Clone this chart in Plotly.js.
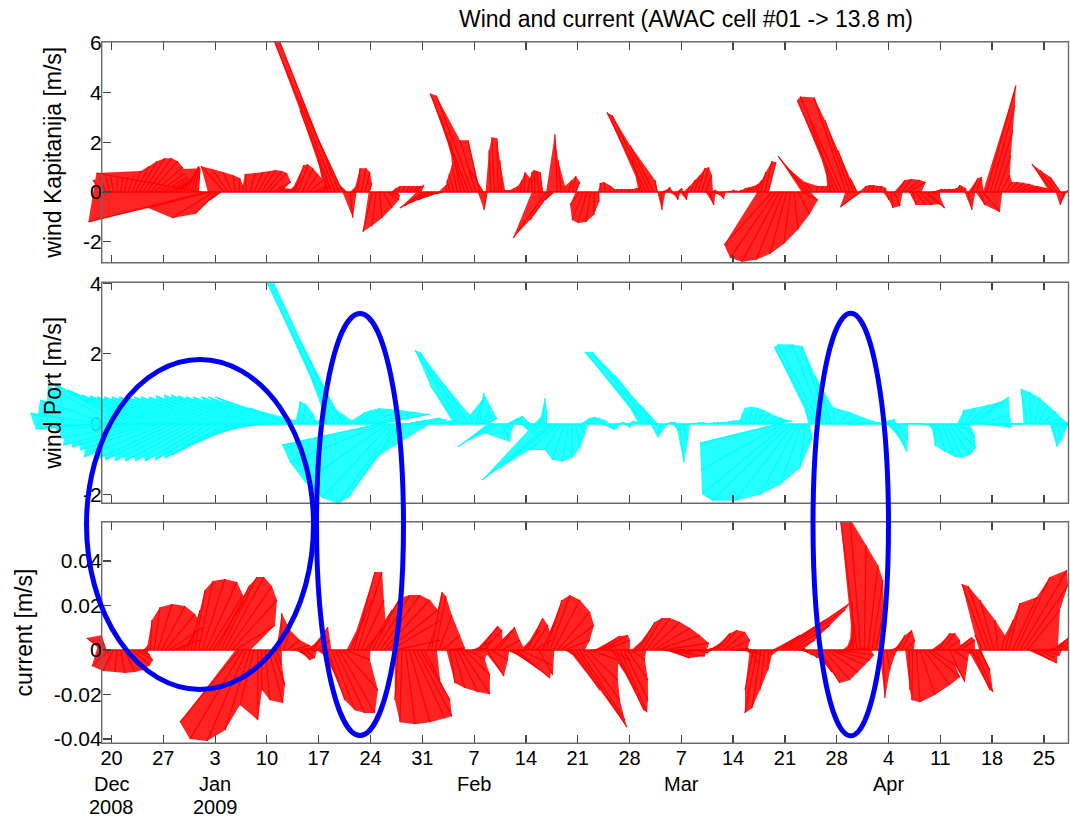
<!DOCTYPE html>
<html><head><meta charset="utf-8">
<script src="https://cdn.plot.ly/plotly-3.0.1.min.js"></script>
<style>html,body{margin:0;padding:0;background:#fff}#chart{width:1070px;height:819px}</style>
</head><body><div id="chart"></div>
<script>
// ---- sampling (12-hourly feather samples) ----
const FIRST_SAMPLE = Date.UTC(2008, 11, 18, 18, 0, 0);
const STEP_HOURS = 12;

// ---- wind Kapitanija (m/s): east (u) and north (v) components ----
const kapU = [
-0.37,-0.24,-0.15,-0.1,0,0.09,0.14,0.23,0.36,0.54,
0.71,0.88,1.01,1.1,1.16,1.13,1.06,0.99,0.88,0.78,
0.67,0.56,0.45,0.34,0.28,0.17,0.06,-4.25,-4.72,-2.46,
-1.65,-0.88,-0.43,-0.94,-0.64,-0.35,-0.1,0.03,0,-0.06,
0.19,0.36,0.49,0.58,0.68,0.73,0.74,0.35,0.4,0.46,
0.51,0.48,0.37,0.38,0.44,0.49,0.54,0.55,0.52,0.38,
0.07,-0.4,-1.27,-2.54,-2.4,-1.71,-0.26,0.11,0.16,0.1,
0.19,0.2,0.13,-0.38,-0.16,0.09,0.34,0.47,0.36,0.06,
0.07,0.12,0.17,0.18,0.2,0.17,0.14,-0.97,-0.96,-0.86,
-0.69,-0.52,-0.27,-0.02,-0.12,-0.19,-0.22,-0.45,-1.0,-1.54,
-1.45,-0.64,-0.47,-0.54,-0.12,-0.07,-0.1,-0.05,-0.08,-0.02,
0.03,0.04,0.05,0.06,0.04,0.09,0.02,-0.05,-0.08,-0.1,
-1.33,-0.8,-0.35,-0.1,-0.12,0.01,0.14,0.15,0.16,-0.38,
-0.45,-0.36,-0.19,-0.02,0.04,-0.07,-0.06,0.07,0.08,0.06,
0.07,0.08,0.09,0.06,0.08,0.05,-0.42,-1.57,-1.52,-0.94,
-0.09,0.04,0.05,0.06,0.12,0.09,0.1,0.15,0.12,0.18,
0.23,0.28,0.29,0.26,0.2,0.13,0.14,0.15,0.08,0.1,
0.11,0.12,0.13,0.14,0.16,0.17,0.18,0.19,0.2,0.3,
0.31,-1.92,-1.83,-1.5,-1.08,-0.67,-0.26,0.15,0.48,0.66,
-1.09,-0.76,-0.31,0.06,0.12,0.17,0.18,-0.21,-1.0,-1.66,
-1.69,-1.28,-0.99,-0.62,-0.28,-0.83,0.06,0.07,0.08,0.1,
0.11,0.12,0.09,0.1,0.24,0.29,0.42,0.59,0.68,0.14,
0.35,0.48,0.65,0.7,0.36,0.21,0.14,0.15,0.16,0.18,
0.15,0.12,0.05,0.06,0.16,0.25,0.26,0.23,0.68,1.18,
0.99,0.76,0.53,0.34,0.28,0.37,0.46,0.55,0.64,0.66,
0.63,0.2,0.13,0.14,0.16,0.13,0.1,-0.85,-0.68,-0.42,
-0.17,0];
const kapV = [
0.48,0.56,0.6,0.6,0.6,0.6,0.6,0.68,0.84,1.04,
1.24,1.36,1.36,1.24,1.0,0.76,0.6,0.52,0.44,0.44,
0.48,0.6,0.76,0.88,1.0,1.04,0.96,0.76,-1.2,-0.64,
-1.04,-0.88,-0.32,1.04,0.92,0.8,0.68,0.56,0.28,0.72,
0.76,0.8,0.84,0.88,0.84,0.76,0.4,0.16,0.12,0.12,
0.16,0.56,1.08,1.12,0.96,0.72,0.48,0.24,0.16,0.24,
0.48,1.28,3.28,6.28,6.08,3.68,0.24,-1.04,0.32,0.96,
0.96,0.8,0.36,-1.6,-1.36,-1.04,-0.64,-0.32,-0.16,0.16,
0.24,0.24,0.24,0.24,0.24,0.24,0.28,-0.64,-0.56,-0.44,
-0.32,-0.2,-0.08,0.28,0.48,0.72,1.08,2.08,3.08,3.96,
3.88,2.08,2.08,0.88,-0.72,1.68,2.2,2.16,1.28,0.08,
0.08,0.16,0.24,0.48,0.8,0.56,0.8,0.88,0.84,0.8,
-1.84,-1.12,-0.32,2.32,1.28,0.24,0.48,0.64,0.4,-0.52,
-1.12,-1.24,-1.2,-0.92,-0.4,0.36,0.4,0.24,0.12,0.12,
0.12,0.12,0.12,0.12,0.16,0.24,1.28,3.2,3.08,1.88,
0.48,-0.72,0.08,0.2,-0.12,-0.32,0.16,-0.32,0.24,0.48,
0.68,0.96,1.0,0.68,-0.52,0.08,-0.12,-0.28,0,0.04,
0.08,0.04,0.08,0.16,0.2,0.24,0.32,0.48,0.8,1.24,
1.2,-2.12,-2.64,-2.8,-2.72,-2.48,-2.08,-1.52,-0.88,-0.32,
1.44,0.88,0.4,0.24,0.24,0.24,0.28,0.88,2.88,3.68,
3.84,3.8,2.88,1.68,0.56,-0.6,0.24,0.28,0.28,0.24,
0.24,0.16,-0.32,-0.64,-0.56,0.48,0.52,0.48,0.4,-0.52,
-0.52,-0.52,-0.48,-0.64,-0.16,0.08,0.12,0.12,0.12,0.12,
0.16,0.28,0.24,0.16,-0.72,0.56,0.6,-0.52,-0.8,4.28,
3.48,2.48,1.48,0.68,0.4,0.4,0.36,0.32,0.24,0.16,
0.08,0.24,0.24,0.2,0.16,0.12,0.12,1.12,0.88,0.6,
-0.52,0.08];

// ---- wind Port (m/s) ----
const portU = [
-2.05,-2.0,-1.98,-1.94,-1.97,-2.01,-1.97,-2.05,-1.99,-2.15,
-2.03,-2.27,-2.04,-2.23,-2.05,-2.21,-2.03,-2.31,-2.04,-2.2,
-2.05,-2.13,-2.04,-2.06,-2.05,-1.98,-2.06,-1.91,-2.04,-1.84,
-2.05,-1.76,-2.04,-1.69,-2.05,-1.7,-2.03,-1.68,-2.04,-1.61,
-2.05,-1.53,-2.04,-1.4,-2.05,-1.24,-2.03,-1.03,-2.04,-0.67,
-2.05,-1.16,0.04,0.05,0.11,0.23,0.18,0.1,0.1,0.1,
0.05,-0.23,-0.9,-2.0,-1.9,-1.22,-0.47,0.05,0.32,0.41,
0.53,0.71,0.89,1.21,1.53,-2.78,-2.66,-2.34,-1.96,-1.61,
-1.43,-0.63,0.97,1.07,0.14,0.1,0.1,0.1,0.1,0.1,
0.1,0.1,0.1,0.1,0.1,0.03,-0.78,-1.31,-1.28,-0.67,
-0.07,0.17,0.12,0.19,0.28,-0.93,-0.7,-0.38,0.23,0.18,
0.25,0.28,0.29,0.27,0.11,0.12,0.07,0.08,0.03,0.07,
0.02,-1.93,-1.53,-0.78,-0.46,-0.36,-0.18,0,0.12,0.15,
0.19,0.23,0.26,0.3,0.28,0.09,0.13,0.16,0.14,0.1,
0.1,0.11,0.07,0.05,0.08,0.06,-0.64,-1.74,-1.64,-1.1,
-0.49,-0.09,0.09,0.1,0.11,0.06,0.13,0.14,0.09,0.05,
0.05,0.05,0.05,0.05,0.05,0.05,0.05,0.05,0.05,0.05,
0.05,0.05,0.05,-0.01,-0.03,0.06,0.13,0.19,0.26,0.32,
0.39,0.45,0.46,-2.26,-2.33,-2.41,-2.23,-1.68,-1.08,-0.61,
-0.15,0.09,-0.22,-1.2,-1.2,-0.9,-0.72,-0.46,-0.05,0.32,
0.64,0.97,0.24,0.1,0.1,0.1,0.1,0.1,0.1,0.1,
0.16,0.2,0.24,0.27,0.37,0.29,0.18,0.1,0.1,0.1,
0.1,0.1,0.09,0.07,0.05,0.01,0.18,0.36,0.46,0.58,
0.64,0.51,0.09,0.3,0.57,0.8,0.95,0.87,0.83,0.1,
0.1,0.1,0.1,0.1,0.1,0.1,0.1,0.1,0.06,0.07,
-0.18,-0.03,0.15,0.27,0.39,0.46,0.53,0.11,0.14,0.15,
0.1,0.05];
const portV = [
0.31,-0.14,0.68,-0.09,1.08,-0.03,1.14,-0.17,1.02,-0.4,
0.97,-0.6,0.88,-0.65,0.82,-0.74,0.8,-0.94,0.77,-1.02,
0.77,-1.02,0.77,-1.05,0.77,-1.05,0.77,-1.05,0.77,-1.05,
0.77,-1.02,0.77,-0.97,0.8,-0.88,0.82,-0.74,0.82,-0.54,
0.8,-0.37,0.77,-0.2,0.77,-0.06,0.77,0,0.77,0,
0.77,0.45,0.11,0.65,0.57,0.28,0.09,0.1,0.1,0.12,
0.15,0.68,2.1,4.15,4.09,2.39,0.54,0.11,0.34,0.4,
0.45,0.43,0.4,0.34,0.28,-0.6,-1.09,-1.65,-2.1,-2.27,
-2.1,-0.88,0.17,0.11,0.06,0.06,0.08,0.1,0.1,0.08,
0.06,0.06,0.08,0.1,0.1,0.12,1.11,2.1,2.05,1.11,
0.26,0.68,0.88,0.54,0.17,-0.65,-0.45,-0.26,-0.51,-0.17,
0.17,0.23,0.11,0.03,-0.17,-0.23,-0.28,-0.17,0.11,0.74,
0.4,-1.59,-1.25,-0.74,-0.74,-1.02,-1.07,-0.96,-0.68,-0.31,
0.17,0.2,0.17,0.11,0.06,0,-0.11,-0.17,-0.11,0,
0.06,0,-0.11,0.09,0.06,0.03,0.97,2.05,2.05,1.39,
0.54,-0.39,0,0.06,0.06,-0.17,-1.11,-0.45,0,0.03,
0.03,0.05,0.05,0.03,0.03,0.05,0.05,0.06,0.06,0.08,
0.1,0.1,0.12,0.29,0.46,0.49,0.46,0.4,0.31,0.23,
0.17,0.11,0.09,-0.54,-1.31,-1.99,-2.18,-2.18,-2.01,-1.73,
-1.25,-0.45,0.4,2.19,2.27,2.27,2.22,1.39,0.48,0.34,
0.17,0.03,0,0.03,0.05,0.05,0.06,0.06,0.05,0.05,
0,0.11,0.14,-0.39,-0.79,-0.45,-0.05,0.02,0.02,0.02,
0.02,0.02,-0.02,-0.05,-0.17,-0.62,-0.79,-0.93,-0.96,-0.88,
-0.68,-0.31,0.4,0.46,0.54,0.63,0.77,0.26,-0.08,0,
0.02,0.02,0.02,0.02,0.02,0.02,0.02,0.03,0.03,0.03,
1.0,0.91,0.74,0.54,0.34,0.17,0.03,-0.65,-0.45,-0.16,
-0.05,0];

// ---- current, AWAC cell #01 (m/s) ----
const curU = [
-0.0069,-0.0022,-0.008,-0.0047,-0.0009,0.0019,0.0047,0.0067,0.0081,0.0078,
0.0048,0.0022,0.0006,0.0007,0.0027,0.0064,0.0106,0.0134,0.0153,0.0123,
0.0017,0.0022,0.0028,0.0034,0.004,0.0046,0.0065,0.0102,0.014,0.015,
0.0142,0.0148,0.0163,0.0178,0.0197,0.0203,0.0178,-0.0266,-0.0238,-0.0178,
-0.0114,-0.0063,0.0001,0.0003,0.0022,0.0064,0.0056,0.0026,0.0009,0.0029,
0.0057,0.0085,0.0082,0.003,0.0036,0.0041,0.0047,0.0067,0.0059,0.0056,
0.0062,0.0076,0.0105,0.0133,0.0161,0.0158,0.0106,0.0098,0.0095,0.011,
0.0102,0.0094,0.0105,0.0124,0.0152,0.0181,0.0209,0.0228,0.0225,0.0204,
-0.0015,-0.0009,0.0042,0.0093,0.0143,0.0158,0.0133,0.0071,0.0032,0.0047,
0.0048,0.0058,0.0078,0.0084,0.0022,0.005,0.0092,0.0129,0.0113,0.0074,
0.0071,0.0076,0.0082,0.0084,0.0076,0.0077,0.0079,0.0075,0.0081,0.0087,
0.0093,0.0121,0.015,0.0142,0.0071,0.0068,0.0074,0.0075,0.0063,0.006,
0.0071,0.009,0.0118,0.0147,0.0148,0.0113,0.0052,0.0125,0.023,0.0204,
0.0165,0.0139,0.0123,0.0093,0.0098,0.0118,0.011,0.0093,0.0104,0.0123,
0.012,0.0108,0.0091,0.0061,0.0058,0.0073,0.0088,0.0107,0.0135,0.0164,
0.0192,0.0216,0.0181,0.0097,0.0103,0.0109,0.0047,0.004,0.0041,0.0042,
0.0044,0.0045,0.0046,0.0043,0.0049,0.0055,0.0061,0.0075,0.0095,0.0101,
0.0075,0.0076,0.0078,0.0079,0.0071,0.0046,-0.0038,-0.0055,-0.004,-0.0021,
-0.0001,0,0.0109,0.0205,0.0301,0.0262,0.0178,0.0093,0.0032,0.0029,
0.003,0.004,0.006,0.007,0.0089,0.0118,0.0137,0.0152,0.0158,0.0159,
0.0124,0.004,0.0024,-0.0006,-0.0077,-0.0049,0.0007,0.0044,0.005,0.0038,
0.0021,0.0009,0.0015,0.0021,0.0027,0.0032,0.0047,0.0044,0.0005,-0.0003,
0.0017,0.0067,0.0118,0.0147,0.0107,0.0046,0.0052,0.0058,0.0063,0.0069,
0.0066,0.0067,0.0064,0.0048,0.0053,0.0082,0.0079,0.0049,-0.0036,-0.0111,
-0.01,-0.0063,-0.0012,0.0016,0.0036,0.005,0.011,0.0152,0.0212,0.02,
0.0147,0.0117,0.0069,0.0075,0.008,0.0073,0.0065,0.0058,0.005,0.0042,
0.0026,0.0009];
const curV = [
0.0054,0.0067,-0.0072,-0.0094,-0.0099,-0.0103,-0.0099,-0.009,-0.0067,-0.0045,
-0.0022,-0.0009,0.0022,0.0135,0.0193,0.0207,0.0198,0.0162,0.0103,0.0045,
0.0009,0.0022,0.0045,0.009,0.018,0.027,0.031,0.0319,0.0306,0.0247,
0.0225,0.0292,0.0328,0.0328,0.0288,0.0225,0.0112,-0.0324,-0.04,-0.0409,
-0.036,-0.0247,-0.0315,-0.018,-0.0225,-0.0238,-0.0157,-0.0067,0.0166,0.009,
0.0045,0.0022,0.0009,-0.0022,-0.0045,-0.0036,0.0045,0.0103,0.0045,-0.0054,
-0.0135,-0.0225,-0.027,-0.0283,-0.0283,-0.018,-0.0045,0.0225,0.0351,0.0351,
0.0225,0.0112,0.018,0.0234,0.0247,0.0247,0.0225,0.018,0.0135,0.0045,
-0.0225,-0.0324,-0.0333,-0.0324,-0.0306,-0.0297,-0.0225,-0.0135,0.009,0.0261,
0.0243,0.0157,0.0067,0.0009,-0.0148,-0.0171,-0.0189,-0.0198,-0.0112,-0.0045,
0.0009,0.0045,0.0108,0.009,-0.0117,-0.0045,0.009,0.0103,0.0045,0,
-0.0045,-0.009,-0.0126,-0.0067,0.009,0.0144,0.0112,0.0045,-0.0112,0.0135,
0.0225,0.0247,0.0225,0.0171,0.0112,0.0045,-0.0045,-0.018,-0.0346,-0.0315,
-0.0225,-0.0135,-0.0045,0.0022,0.0063,0.0067,0.0045,-0.0045,-0.018,-0.027,
-0.0279,-0.0225,-0.0135,-0.0045,0.0067,0.0126,0.0144,0.0144,0.0126,0.0099,
0.0067,0.0031,-0.0027,-0.0036,-0.0022,0,-0.0009,-0.0009,-0.0004,0,
-0.0009,-0.0013,0,0.0009,0.0022,0.0045,0.0076,0.009,0.0081,0.0045,
0.0009,0,0,-0.0009,-0.0022,-0.0067,-0.018,-0.0283,-0.0261,-0.018,
-0.009,-0.0022,0.0067,0.0135,0.0211,0.018,0.0112,0.0045,0.0009,-0.0009,
-0.0022,-0.0036,-0.0054,-0.0099,-0.0148,-0.0135,-0.0099,-0.0067,-0.0045,-0.0022,
0.0009,0.0045,0.0112,0.0211,0.0607,0.0593,0.0472,0.0382,0.0315,0.018,
0.0045,-0.0216,-0.009,-0.0022,0.0022,0.0067,0.009,0.0045,-0.018,-0.0225,
-0.0234,-0.0202,-0.0157,-0.0121,-0.0067,0.0045,0.0076,0.0076,0.0045,-0.0144,
-0.0045,0.0058,0.0045,0,-0.0045,-0.018,-0.0189,-0.009,0.0067,0.0297,
0.0288,0.0225,0.0135,0.0067,0.0135,0.0211,0.0238,0.0328,0.036,0.0292,
0.018,-0.0058,-0.0045,-0.0036,-0.0022,0,0.0022,0.0045,0.0054,0.0045,
0.0022,0.0009];

// ---- axis ticks / labels ----
const tickDates = ['2008-12-20','2008-12-27','2009-01-03','2009-01-10','2009-01-17','2009-01-24','2009-01-31',
  '2009-02-07','2009-02-14','2009-02-21','2009-02-28','2009-03-07','2009-03-14','2009-03-21','2009-03-28',
  '2009-04-04','2009-04-11','2009-04-18','2009-04-25'];
const tickDays = ['20','27','3','10','17','24','31','7','14','21','28','7','14','21','28','4','11','18','25'];
const monthDates = ['2008-12-20','2009-01-03','2009-02-07','2009-03-07','2009-04-04'];
const monthNames = ['Dec','Jan','Feb','Mar','Apr'];
const yearNames = ['2008','2009','','',''];

const titleText = 'Wind and current (AWAC cell #01 -> 13.8 m)';
const yTitles = ['wind Kapitanija [m/s]','wind Port [m/s]','current [m/s]'];

// ---- layout geometry ----
const W = 1070, H = 819, DAY = 86400000;
const FONT = 'Liberation Sans, Arial, Helvetica, sans-serif';
const xDom = [25/W, 1068.5/W];
const frameLeft = 101.7/W;
const refDay = Date.UTC(2008, 11, 20);
const xRange = [refDay - 11.689*DAY, refDay + 129.324*DAY];
const pxPerDay = (xDom[1]-xDom[0])*W / ((xRange[1]-xRange[0])/DAY);

const panels = [
  {u: kapU, v: kapV, dom:[0.67924,0.94908], range:[-2.84,6.04], tv:[-2,0,2,4,6], tt:['-2','0','2','4','6'],
   line:'rgb(255,0,0)', fill:'rgba(255,0,0,0.86)'},
  {u: portU, v: portV, dom:[0.38547,0.65531], range:[-2.255,4.03], tv:[-2,0,2,4], tt:['-2','0','2','4'],
   line:'rgb(0,255,255)', fill:'rgba(0,255,255,0.86)'},
  {u: curU, v: curV, dom:[0.09243,0.36300], range:[-0.0419,0.0577], tv:[-0.04,-0.02,0,0.02,0.04],
   tt:['-0.04','-0.02','0','0.02','0.04'], line:'rgb(255,0,0)', fill:'rgba(255,0,0,0.86)'}
];

const traces = [];
panels.forEach((p, k) => {
  const xa = k === 0 ? 'x' : 'x' + (k+1);
  const ya = k === 0 ? 'y' : 'y' + (k+1);
  const pxPerUnit = (p.dom[1]-p.dom[0])*H / (p.range[1]-p.range[0]);
  const daysPerUnit = pxPerUnit / pxPerDay;   // keep stick angles true on screen
  const n = p.u.length;
  const t = [], tipT = [];
  for (let i = 0; i < n; i++) {
    t.push(FIRST_SAMPLE + i*STEP_HOURS*3600000);
    tipT.push(t[i] + p.u[i]*daysPerUnit*DAY);
  }
  // sticks
  const sx = [], sy = [];
  for (let i = 0; i < n; i++) { sx.push(t[i], tipT[i], null); sy.push(0, p.v[i], null); }
  // area swept between consecutive sticks
  const fx = [], fy = [];
  const toPx = (q) => [(q[0]-FIRST_SAMPLE)/DAY*pxPerDay, q[1]*pxPerUnit];
  function tri(a, b, c) {
    const A = toPx(a), B = toPx(b), C = toPx(c);
    const cr = (B[0]-A[0])*(C[1]-A[1]) - (B[1]-A[1])*(C[0]-A[0]);
    if (Math.abs(cr) < 1e-6) return;
    const pts = cr > 0 ? [a, b, c] : [a, c, b];
    pts.forEach(q => { fx.push(q[0]); fy.push(q[1]); });
    fx.push(null); fy.push(null);
  }
  for (let i = 0; i < n-1; i++) {
    tri([t[i],0], [tipT[i],p.v[i]], [tipT[i+1],p.v[i+1]]);
    tri([t[i],0], [tipT[i+1],p.v[i+1]], [t[i+1],0]);
  }
  traces.push({x:fx, y:fy, xaxis:xa, yaxis:ya, mode:'none', fill:'toself', fillcolor:p.fill,
               hoverinfo:'skip', showlegend:false});
  traces.push({x:sx, y:sy, xaxis:xa, yaxis:ya, mode:'lines', line:{color:p.line, width:1.2},
               hoverinfo:'skip', showlegend:false});
  traces.push({x:t, y:t.map(() => 0), xaxis:xa, yaxis:ya, mode:'lines', line:{color:p.line, width:1.6},
               hoverinfo:'skip', showlegend:false});
});

const layout = {
  width: W, height: H, margin: {l:0, r:0, t:0, b:0},
  paper_bgcolor: '#fff', plot_bgcolor: '#fff', showlegend: false,
  font: {family: FONT, size: 21, color: '#000'},
  title: {text: titleText, font: {family: FONT, size: 23, color: '#000'},
          x: 686/W, xanchor: 'center', xref: 'paper', y: 1 - 19/H, yanchor: 'middle', yref: 'container'},
  shapes: [], annotations: []
};

panels.forEach((p, k) => {
  const xs = k === 0 ? '' : String(k+1);
  const xa = 'xaxis' + xs, ya = 'yaxis' + xs;
  const yId = 'y' + xs;
  layout[xa] = {
    type: 'date', domain: xDom, range: xRange, anchor: yId,
    tickmode: 'array', tickvals: tickDates, ticktext: tickDays,
    showticklabels: k === 2, ticks: 'inside', ticklen: 8, tickwidth: 1.2, tickcolor: '#444', mirror: 'ticks',
    ticklabelstandoff: 1,
    showline: false, showgrid: false, zeroline: false,
    tickfont: {family: FONT, size: 20, color: '#000'}
  };
  layout[ya] = {
    domain: p.dom, range: p.range, anchor: 'free', position: frameLeft,
    tickmode: 'array', tickvals: p.tv, ticktext: p.tt,
    ticks: 'inside', ticklen: 8, tickwidth: 1.2, tickcolor: '#444',
    showline: false, showgrid: false, zeroline: false,
    tickfont: {family: FONT, size: 21, color: '#000'},
    title: {text: yTitles[k], font: {family: FONT, size: 23, color: '#000'}, standoff: 13},
    layer: k === 1 ? 'below traces' : 'above traces'
  };
  // right-hand tick marks
  const rId = 'yaxis' + (k+4);
  layout[rId] = {
    overlaying: yId, side: 'right', anchor: 'x' + xs, range: p.range,
    tickmode: 'array', tickvals: p.tv, showticklabels: false,
    ticks: 'inside', ticklen: 8, tickwidth: 1.2, tickcolor: '#444',
    showline: false, showgrid: false, zeroline: false
  };
  // frame
  layout.shapes.push({type:'rect', xref:'paper', yref:'paper', x0: frameLeft, x1: xDom[1],
    y0: p.dom[0], y1: p.dom[1], line: {color:'#6a6a6a', width:1.4}, fillcolor:'rgba(0,0,0,0)', layer:'above'});
});

// month / year rows under the day numbers
monthDates.forEach((d, i) => {
  layout.annotations.push({xref:'x3', yref:'paper', x: d, y: 1 - 783.5/H, text: monthNames[i], showarrow:false,
    xanchor:'center', yanchor:'middle', font:{family:FONT, size:20, color:'#000'}});
  if (yearNames[i]) layout.annotations.push({xref:'x3', yref:'paper', x: d, y: 1 - 807/H, text: yearNames[i],
    showarrow:false, xanchor:'center', yanchor:'middle', font:{family:FONT, size:20, color:'#000'}});
});

// highlight ellipses
const ellipses = [[86.5,313.5,359.5,689.5],[316.5,403.5,313.5,735.5],[813,888.5,313.2,735.8]];
ellipses.forEach(e => layout.shapes.push({type:'circle', xref:'paper', yref:'paper',
  x0: e[0]/W, x1: e[1]/W, y0: 1 - e[3]/H, y1: 1 - e[2]/H,
  line:{color:'rgb(0,0,245)', width:5}, fillcolor:'rgba(0,0,0,0)', layer:'above'}));

Plotly.newPlot('chart', traces, layout, {staticPlot: true, displayModeBar: false});
</script></body></html>
